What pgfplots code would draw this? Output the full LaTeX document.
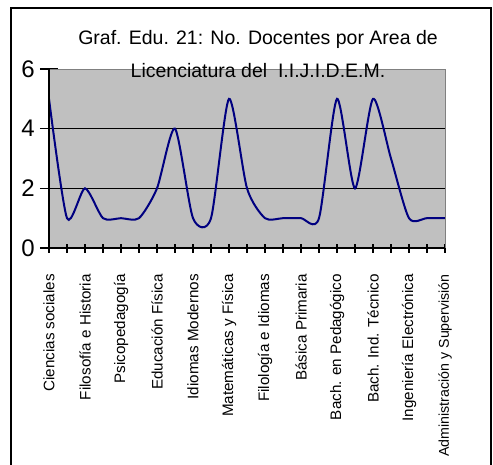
\documentclass[border=0pt]{standalone}
\usepackage{pgfplots}
\pgfplotsset{compat=1.18}
\usepackage{fontspec}
\setmainfont{Liberation Sans}
\definecolor{plotbg}{RGB}{192,192,192}
\definecolor{plotborder}{RGB}{128,128,128}
\definecolor{navyline}{RGB}{0,0,128}
\begin{document}
\begin{tikzpicture}[x=1pt,y=-1pt]
\useasboundingbox (0,0) rectangle (493,464);
\draw[black, line width=1.5pt] (11,470) -- (11,8) -- (491,8) -- (491,470);
\begin{axis}[
  at={(49pt,-248pt)}, anchor=south west,
  scale only axis, width=396pt, height=179pt,
  xmin=0, xmax=22, ymin=0, ymax=6,
  xtick={0,...,22}, ytick={0,2,4,6},
  xticklabels={Ciencias sociales,,Filosofía e Historia,,Psicopedagogía,,Educación Física,,Idiomas Modernos,,Matemáticas y Física,,Filología e Idiomas,,Básica Primaria,,Bach. en Pedagógico,,Bach. Ind. Técnico,,Ingeniería Electrónica,,{\fontsize{14.2}{14.2}\selectfont Administración y Supervisión}},
  /pgf/number format/assume math mode=true,
  tick align=center, tick pos=left,
  major tick length=18pt,
  xtick style={/pgfplots/major tick length=9pt},
  tick style={black, line width=1.2pt},
  xticklabel style={font=\fontsize{15.2}{15.2}\selectfont, rotate=90, anchor=east, inner sep=0pt, xshift=-4pt},
  xticklabel shift=13pt,
  yticklabel style={font=\fontsize{24}{24}\selectfont, inner sep=0pt},
  yticklabel shift=5pt,
  axis line style={draw=none},
  axis background/.style={fill=plotbg},
  clip=false,
]
\draw[black, line width=1.5pt] (axis cs:0,2) -- (axis cs:22,2);
\draw[black, line width=1.5pt] (axis cs:0,4) -- (axis cs:22,4);
\addplot[navyline, line width=2pt, smooth, tension=0.42, mark=none] coordinates {
(0,5) (1,1) (2,2) (3,1) (4,1) (5,1) (6,2) (7,4) (8,1) (9,1) (10,5) (11,2)
(12,1) (13,1) (14,1) (15,1) (16,5) (17,2) (18,5) (19,3) (20,1) (21,1) (22,1)
};
\draw[plotborder, line width=1pt] (rel axis cs:0,1) -- (rel axis cs:1,1) -- (rel axis cs:1,0);
\draw[black, line width=1.5pt] (rel axis cs:0,1) -- (rel axis cs:0,0) -- (rel axis cs:1,0);
\end{axis}
\node[anchor=base, font=\fontsize{19.5}{19.5}\selectfont] at (258,44) {Graf. Edu. 21: No. Docentes por Area de};
\node[anchor=base, font=\fontsize{19.5}{19.5}\selectfont] at (258,77) {Licenciatura del\ \ I.I.J.I.D.E.M.};
\end{tikzpicture}
\end{document}
